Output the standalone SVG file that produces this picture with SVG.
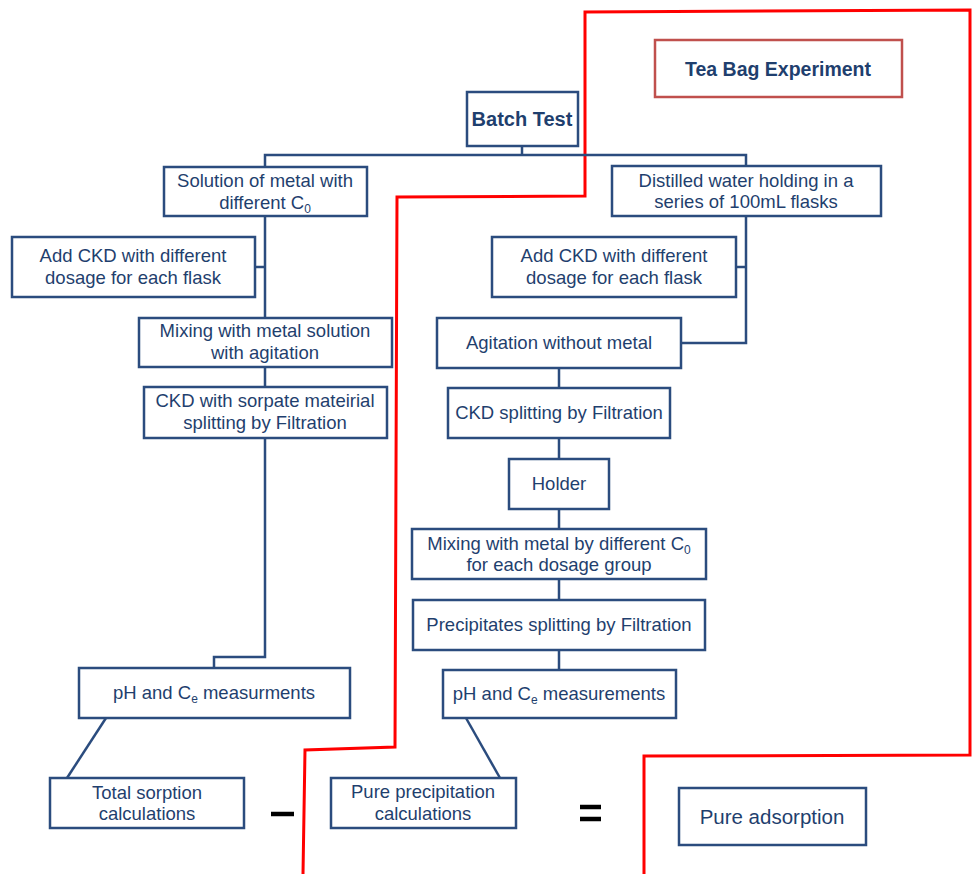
<svg xmlns="http://www.w3.org/2000/svg" width="973" height="874" viewBox="0 0 973 874">
<style>
.box{fill:#fff;stroke:#2B4C7E;stroke-width:2.5}
.t{font-family:"Liberation Sans",Arial,sans-serif;font-size:18.5px;fill:#1F3F6E;text-anchor:middle}
.b{font-weight:bold}
.sub{font-size:12px}
.conn{fill:none;stroke:#2B4C7E;stroke-width:2.5}
.red{fill:none;stroke:#FF0000;stroke-width:3}
.op{stroke:#000;stroke-width:4.5}
</style>
<rect width="973" height="874" fill="#fff"/>
<g id="region">
<polyline class="red" points="303,874 305,750 395,747 397,197 585,196 585,12 970,10 970,755 644,756 644,874"/>
</g>
<g id="connectors">
<polyline class="conn" points="265,167 265,155 746,155 746,166"/>
<line class="conn" x1="522" y1="146" x2="522" y2="155"/>
<polyline class="conn" points="265,216 265,657 214,657 214,668"/>
<line class="conn" x1="255" y1="267" x2="265" y2="267"/>
<polyline class="conn" points="746,216 746,343 681,343"/>
<line class="conn" x1="736" y1="267" x2="746" y2="267"/>
<line class="conn" x1="559" y1="368" x2="559" y2="670"/>
<line class="conn" x1="106" y1="718" x2="67" y2="778"/>
<line class="conn" x1="466" y1="718" x2="500" y2="778"/>
</g>
<g id="tea-bag"><rect x="655" y="40" width="247" height="57" fill="#fff" stroke="#C0504D" stroke-width="2.5"/><text class="t b" x="778" y="76" style="font-size:19.5px">Tea Bag Experiment</text></g>
<g id="batch-test"><rect class="box" x="467" y="92" width="111" height="54"/><text class="t b" x="522" y="126" style="font-size:20px">Batch Test</text></g>
<g id="solution"><rect class="box" x="164" y="167" width="203" height="49"/><text class="t" x="265" y="187">Solution of metal with</text><text class="t" x="265" y="209">different C<tspan class="sub" dy="4">0</tspan></text></g>
<g id="add-ckd-left"><rect class="box" x="12" y="237" width="243" height="60"/><text class="t" x="133" y="262">Add CKD with different</text><text class="t" x="133" y="284">dosage for each flask</text></g>
<g id="mixing-left"><rect class="box" x="139" y="318" width="253" height="49"/><text class="t" x="265" y="337">Mixing with metal solution</text><text class="t" x="265" y="359">with agitation</text></g>
<g id="ckd-sorpate"><rect class="box" x="144" y="387" width="243" height="51"/><text class="t" x="265" y="407">CKD with sorpate mateirial</text><text class="t" x="265" y="429">splitting by Filtration</text></g>
<g id="ph-left"><rect class="box" x="79" y="668" width="271" height="50"/><text class="t" x="214" y="699">pH and C<tspan class="sub" dy="4">e</tspan><tspan dy="-4"> measurments</tspan></text></g>
<g id="total-sorption"><rect class="box" x="50" y="778" width="194" height="50"/><text class="t" x="147" y="799">Total sorption</text><text class="t" x="147" y="820">calculations</text></g>
<g id="minus"><line class="op" x1="271" y1="814" x2="294" y2="814"/></g>
<g id="distilled"><rect class="box" x="612" y="166" width="269" height="50"/><text class="t" x="746" y="187">Distilled water holding in a</text><text class="t" x="746" y="208">series of 100mL flasks</text></g>
<g id="add-ckd-right"><rect class="box" x="492" y="237" width="244" height="60"/><text class="t" x="614" y="262">Add CKD with different</text><text class="t" x="614" y="284">dosage for each flask</text></g>
<g id="agitation"><rect class="box" x="437" y="318" width="244" height="50"/><text class="t" x="559" y="349">Agitation without metal</text></g>
<g id="ckd-splitting"><rect class="box" x="448" y="388" width="222" height="50"/><text class="t" x="559" y="419">CKD splitting by Filtration</text></g>
<g id="holder"><rect class="box" x="509" y="459" width="100" height="50"/><text class="t" x="559" y="490">Holder</text></g>
<g id="mixing-right"><rect class="box" x="412" y="529" width="294" height="50"/><text class="t" x="559" y="550">Mixing with metal by different C<tspan class="sub" dy="4">0</tspan></text><text class="t" x="559" y="571">for each dosage group</text></g>
<g id="precipitates"><rect class="box" x="413" y="600" width="292" height="50"/><text class="t" x="559" y="631">Precipitates splitting by Filtration</text></g>
<g id="ph-right"><rect class="box" x="443" y="670" width="233" height="48"/><text class="t" x="559" y="700">pH and C<tspan class="sub" dy="4">e</tspan><tspan dy="-4"> measurements</tspan></text></g>
<g id="pure-precipitation"><rect class="box" x="331" y="778" width="185" height="50"/><text class="t" x="423" y="798">Pure precipitation</text><text class="t" x="423" y="820">calculations</text></g>
<g id="equals"><line class="op" x1="580" y1="807" x2="601" y2="807"/><line class="op" x1="580" y1="819" x2="601" y2="819"/></g>
<g id="pure-adsorption"><rect class="box" x="679" y="788" width="187" height="57"/><text class="t" x="772" y="824" style="font-size:20.5px">Pure adsorption</text></g>
</svg>
